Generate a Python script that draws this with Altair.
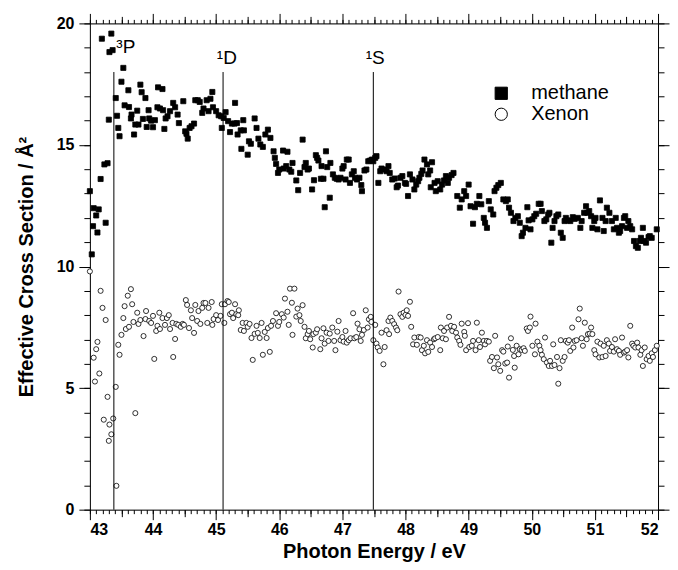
import altair as alt
import pandas as pd

methane_x = [43.0, 43.03, 43.05, 43.06, 43.1, 43.12, 43.14, 43.17, 43.19, 43.23, 43.25, 43.28, 43.3, 43.31, 43.34, 43.36,
             43.41, 43.43, 43.45, 43.47, 43.5, 43.53, 43.55, 43.61, 43.62, 43.65, 43.66, 43.7, 43.72, 43.75, 43.77, 43.8,
             43.82, 43.84, 43.88, 43.9, 43.93, 43.94, 43.97, 44.0, 44.03, 44.07, 44.08, 44.11, 44.15, 44.16, 44.18, 44.2,
             44.23, 44.27, 44.32, 44.35, 44.39, 44.41, 44.48, 44.51, 44.53, 44.55, 44.58, 44.61, 44.65, 44.67, 44.71, 44.74,
             44.78, 44.8, 44.85, 44.88, 44.91, 44.94, 44.95, 45.0, 45.04, 45.08, 45.09, 45.12, 45.15, 45.19, 45.22, 45.25,
             45.29, 45.3, 45.33, 45.34, 45.39, 45.4, 45.43, 45.44, 45.5, 45.52, 45.55, 45.61, 45.64, 45.67, 45.7, 45.74,
             45.78, 45.82, 45.86, 45.91,
             45.93, 45.95, 45.98, 46.0, 46.06, 46.07, 46.11, 46.13, 46.16, 46.19, 46.21, 46.27, 46.3, 46.33, 46.37, 46.4,
             46.42, 46.45, 46.47, 46.52, 46.55, 46.58, 46.6, 46.62, 46.66, 46.67, 46.7, 46.72, 46.74, 46.76, 46.8, 46.81,
             46.85, 46.88, 46.91, 46.94, 46.97, 47.0, 47.02, 47.05, 47.07, 47.1, 47.12, 47.15, 47.18, 47.2, 47.23, 47.27,
             47.3, 47.31, 47.35, 47.38, 47.41, 47.44, 47.47, 47.49, 47.52, 47.54, 47.57, 47.6, 47.62, 47.66, 47.7, 47.73,
             47.75, 47.79, 47.83, 47.86, 47.88, 47.92, 47.95, 47.99, 48.01, 48.04, 48.07, 48.11, 48.14, 48.17, 48.2, 48.22,
             48.25, 48.27, 48.3, 48.34, 48.36, 48.39, 48.4, 48.42, 48.46, 48.48, 48.51, 48.55, 48.58, 48.61, 48.64, 48.67,
             48.69, 48.73, 48.76,
             48.82, 48.86, 48.89, 48.93, 48.96, 49.0, 49.03, 49.07, 49.1, 49.13, 49.17, 49.2, 49.24, 49.26, 49.29, 49.32,
             49.35, 49.39, 49.41, 49.44, 49.47, 49.51, 49.55, 49.59, 49.62, 49.64, 49.67, 49.71, 49.74, 49.78, 49.81, 49.84,
             49.86, 49.9, 49.93, 49.95, 49.98, 50.01, 50.04, 50.07, 50.11, 50.14, 50.16, 50.2, 50.23, 50.26, 50.28, 50.31,
             50.33, 50.36, 50.39, 50.42, 50.46, 50.49, 50.52, 50.54, 50.57, 50.61, 50.65, 50.68, 50.73, 50.77, 50.79, 50.83,
             50.86, 50.88, 50.91, 50.94, 50.96, 50.99, 51.01, 51.04, 51.08, 51.12, 51.14, 51.17, 51.19, 51.23, 51.27, 51.3,
             51.33, 51.35, 51.38, 51.4, 51.43, 51.46, 51.48, 51.51, 51.53, 51.56, 51.59, 51.62, 51.65, 51.68, 51.71, 51.73,
             51.76, 51.78, 51.81, 51.85, 51.87, 51.9, 51.98]
methane_y = [13.1, 10.5, 11.66, 12.4, 12.1, 11.4, 12.35, 13.6, 19.37, 14.2, 11.8, 14.25, 16.04, 18.82, 19.58, 18.9,
             16.93, 16.2, 15.7, 15.36, 17.6, 18.17, 16.63, 17.25, 16.56, 16.09, 16.25, 15.43, 15.84, 16.41, 15.84, 17.48,
             17.17, 16.07, 16.93, 15.74, 16.43, 16.09, 16.0, 15.73, 16.02, 16.55, 17.37, 16.5, 17.3, 16.43, 15.66, 16.09,
             16.18, 16.39, 16.73, 16.55, 16.25, 15.9, 16.8, 15.56, 15.46, 15.26, 15.7, 15.77, 15.88, 16.84, 16.84, 16.77,
             16.32, 16.5, 16.84, 16.39, 16.9, 17.18, 16.55, 16.39, 16.22, 16.18, 15.7, 16.11, 16.35, 15.98, 15.53, 15.88,
             15.88, 16.73, 15.9, 15.43, 15.6, 14.84, 16.02, 15.6, 14.6, 15.15, 15.05, 16.09, 15.7, 15.26, 15.02, 14.92,
             15.43, 15.63, 15.29, 14.74,
             14.47, 14.22, 13.85, 13.99, 14.77, 14.03, 14.13, 14.72, 13.99, 13.9, 14.26, 13.54, 13.14, 13.85, 15.22, 14.09,
             14.26, 13.99, 14.03, 13.17, 13.55, 14.58, 14.47, 14.36, 13.61, 14.13, 13.61, 12.44, 14.74, 14.09, 12.83, 14.26,
             13.79, 13.65, 13.61, 13.58, 13.65, 14.03, 14.13, 13.58, 14.4, 14.4, 13.44, 13.79, 13.92, 13.65, 13.58, 13.65,
             13.35, 13.1, 13.95, 13.99, 14.33, 14.36, 14.4, 14.33, 14.47, 14.54, 13.44, 13.92, 14.03, 13.99, 13.92, 14.13,
             13.85, 13.58, 13.62, 13.26, 13.33, 13.65, 13.72, 13.44, 13.4, 12.9, 13.79, 13.58, 13.17, 13.37, 13.51, 13.65,
             13.81, 13.95, 14.4, 14.2, 13.79, 13.95, 13.26, 14.29, 13.44, 13.1, 13.51, 13.17, 13.37, 13.54, 13.72, 13.44,
             13.65, 13.76, 13.85,
             12.9, 12.42, 12.76, 13.1, 12.9, 13.37, 12.48, 11.76, 12.44, 12.58, 12.9, 12.56, 12.0, 11.8, 11.59, 12.69,
             12.35, 12.14, 13.1, 13.24, 13.35, 13.44, 12.76, 12.69, 12.76, 12.42, 12.21, 11.87, 12.0, 12.07, 11.8, 11.25,
             11.39, 11.59, 12.44, 11.9, 11.53, 11.94, 12.07, 12.17, 12.58, 12.58, 12.28, 11.87, 11.94, 12.14, 12.21, 10.98,
             11.59, 11.87, 12.07, 12.14, 11.39, 11.18, 11.87, 12.0, 11.9, 11.87, 12.03, 11.96, 12.0, 11.59, 11.87, 12.21,
             12.48, 12.21, 12.28, 12.07, 11.59, 11.87, 12.0, 11.53, 12.72, 12.0, 11.46, 11.87, 12.42, 12.21, 11.87, 11.53,
             12.0, 11.59, 11.39, 11.46, 11.66, 12.0, 12.07, 11.59, 11.87, 11.66, 11.53, 11.05, 10.84, 10.77, 11.05, 11.18,
             11.59, 11.05, 10.98, 11.21, 11.25, 11.18, 11.53]

xenon_x = [43.0, 43.06, 43.08, 43.1, 43.12, 43.15, 43.17, 43.2, 43.22, 43.25, 43.28, 43.3, 43.31, 43.34, 43.37, 43.41,
           43.42, 43.45, 43.47, 43.5, 43.53, 43.55, 43.57, 43.6, 43.62, 43.65, 43.67, 43.69, 43.72, 43.75, 43.77, 43.8,
           43.85, 43.88, 43.89, 43.94, 43.97, 44.0, 44.02, 44.05, 44.07, 44.1, 44.11, 44.15, 44.19, 44.22, 44.25, 44.27,
           44.31, 44.32, 44.35, 44.37, 44.4, 44.44, 44.47, 44.49, 44.52, 44.54, 44.57, 44.6, 44.62, 44.65, 44.67, 44.7,
           44.72, 44.75, 44.78, 44.8, 44.83, 44.86, 44.88, 44.93, 44.94, 44.96, 45.0, 45.03, 45.07, 45.09, 45.13, 45.14,
           45.18, 45.2, 45.22, 45.25, 45.27, 45.3, 45.32, 45.35, 45.36, 45.39, 45.42, 45.44, 45.48, 45.5, 45.53, 45.56,
           45.58, 45.61, 45.64, 45.66, 45.69, 45.72, 45.74, 45.77, 45.8, 45.82, 45.85, 45.87, 45.9,
           45.95, 45.98, 46.0, 46.04, 46.07, 46.09, 46.13, 46.15, 46.17, 46.2, 46.21, 46.24, 46.27, 46.29, 46.32, 46.34,
           46.37, 46.4, 46.42, 46.45, 46.47, 46.49, 46.53, 46.54, 46.58, 46.6, 46.65, 46.67, 46.7, 46.72, 46.75, 46.78,
           46.8, 46.84, 46.87, 46.89, 46.92, 46.94, 46.97, 47.0, 47.02, 47.05, 47.07, 47.1, 47.13, 47.17, 47.19, 47.22,
           47.24, 47.27, 47.29, 47.31, 47.34, 47.37, 47.4, 47.42, 47.45, 47.46, 47.49, 47.52, 47.54, 47.56, 47.59, 47.62,
           47.65, 47.67, 47.7, 47.73, 47.74, 47.76, 47.79, 47.82, 47.85, 47.87, 47.89, 47.92, 47.95, 47.97, 48.0, 48.02,
           48.04, 48.07, 48.09, 48.12, 48.14, 48.18, 48.21, 48.24, 48.26, 48.29, 48.31, 48.34, 48.36, 48.39, 48.42, 48.45,
           48.47, 48.51, 48.55, 48.56, 48.59, 48.61, 48.64, 48.66, 48.69, 48.72, 48.74,
           48.77, 48.8, 48.82, 48.85, 48.87, 48.89, 48.93, 48.94, 48.96, 48.99, 49.01, 49.05, 49.07, 49.11, 49.13, 49.16,
           49.18, 49.21, 49.24, 49.26, 49.29, 49.32, 49.34, 49.37, 49.4, 49.42, 49.45, 49.47, 49.5, 49.53, 49.55, 49.58,
           49.61, 49.62, 49.64, 49.67, 49.7, 49.72, 49.73, 49.76, 49.79, 49.81, 49.84, 49.87, 49.89, 49.92, 49.94, 49.97,
           49.98, 50.01, 50.05, 50.06, 50.09, 50.12, 50.14, 50.16, 50.19, 50.21, 50.24, 50.27, 50.29, 50.32, 50.34, 50.36,
           50.4, 50.42, 50.44, 50.46, 50.49, 50.52, 50.54, 50.57, 50.59, 50.61, 50.64, 50.66, 50.68, 50.71, 50.74, 50.76,
           50.79, 50.81, 50.84, 50.87, 50.89, 50.92, 50.94, 50.96, 50.99, 51.01, 51.04, 51.07, 51.09, 51.12, 51.14, 51.17,
           51.19, 51.22, 51.24, 51.27, 51.3, 51.32, 51.35, 51.38, 51.4, 51.43, 51.46, 51.48, 51.51, 51.53, 51.56, 51.59,
           51.61, 51.64, 51.67, 51.69, 51.72, 51.74, 51.76, 51.79, 51.82, 51.85, 51.87, 51.9, 51.92, 51.95, 51.98]
xenon_y = [9.8, 6.25, 5.27, 6.6, 6.9, 5.6, 9.0, 8.3, 3.7, 7.8, 4.64, 2.83, 3.5, 3.1, 3.75, 5.05,
           0.98, 6.78, 6.37, 7.19, 7.88, 8.37, 7.43, 8.8, 7.52, 9.07, 8.45, 7.72, 3.97, 8.1, 7.64, 7.8,
           7.14, 7.84, 8.17, 7.76, 7.68, 7.97, 6.2, 7.35, 7.56, 8.1, 7.43, 7.88, 7.6, 7.88, 8.0, 7.43,
           7.68, 6.28, 7.02, 7.64, 7.6, 7.52, 7.64, 7.6, 8.62, 8.42, 7.47, 8.2, 7.88, 7.27, 8.42, 7.76,
           8.17, 7.64, 8.3, 8.5, 8.5, 7.68, 8.3, 8.54, 7.6, 7.84, 8.0, 7.8, 7.97, 8.45, 7.68, 8.45,
           8.58, 8.54, 8.04, 8.1, 7.88, 8.45, 8.04, 8.0, 8.2, 7.39, 7.68, 7.35, 7.68, 7.52, 7.64, 7.06,
           6.16, 7.23, 7.56, 7.27, 7.06, 7.68, 6.37, 7.31, 7.06, 7.47, 6.49, 7.56, 7.76,
           8.08, 7.56, 7.72, 8.04, 7.9, 8.68, 8.14, 7.6, 9.09, 8.51, 7.19, 9.09, 7.94, 8.27, 8.0, 7.76,
           8.41, 7.52, 7.05, 7.22, 7.35, 7.01, 6.67, 7.22, 7.28, 7.42, 6.6, 7.05, 7.46, 6.83, 7.28, 6.94,
           7.24, 7.49, 6.94, 6.56, 7.32, 7.76, 6.97, 7.1, 6.91, 7.35, 6.87, 6.97, 7.05, 8.08, 7.05, 7.1,
           7.65, 7.42, 6.94, 7.19, 7.39, 8.2, 7.49, 7.83, 7.93, 7.72, 6.97, 7.6, 6.83, 6.67, 6.53, 7.28,
           5.98, 6.69, 7.38, 7.76, 7.22, 7.9, 7.76, 7.63, 7.49, 7.38, 8.97, 8.04, 7.93, 8.1, 8.01, 8.2,
           7.97, 8.55, 7.52, 6.8, 7.08, 6.78, 7.1, 7.08, 6.56, 6.74, 6.43, 6.97, 6.49, 6.87, 6.69, 7.01,
           7.05, 7.1, 6.56, 7.49, 7.05, 7.35, 7.01, 7.49, 7.93, 7.56, 7.35,
           7.52, 7.28, 7.08, 6.94, 6.78, 7.65, 7.31, 7.15, 6.56, 7.67, 6.69, 6.74, 6.94, 6.56, 7.69, 6.97,
           6.69, 7.28, 6.94, 6.8, 6.94, 6.91, 6.12, 6.28, 5.82, 7.15, 6.26, 5.98, 5.71, 6.56, 6.5, 6.01,
           6.05, 6.71, 5.43, 7.05, 6.57, 6.32, 5.84, 6.74, 6.39, 6.6, 6.57, 6.64, 6.53, 7.45, 7.35, 7.49,
           7.94, 6.74, 6.39, 7.65, 6.91, 6.74, 6.56, 6.37, 6.19, 7.08, 6.05, 5.91, 6.12, 5.91, 6.8, 5.95,
           6.28, 5.18, 5.82, 6.97, 6.12, 6.28, 6.94, 6.87, 6.97, 6.53, 7.49, 6.67, 6.94, 6.97, 7.83, 8.27,
           7.05, 6.74, 7.69, 7.01, 7.22, 7.24, 7.49, 7.22, 6.56, 6.39, 6.91, 6.26, 6.83, 6.28, 6.74, 6.32,
           6.97, 6.83, 6.53, 6.69, 6.5, 7.01, 6.6, 6.53, 6.37, 7.08, 6.46, 6.5, 6.56, 6.26, 7.56, 6.83,
           6.74, 6.67, 6.87, 6.67, 6.37, 6.56, 5.91, 6.67, 6.19, 6.32, 6.12, 6.43, 6.28, 6.56, 6.74]

series_names = ["methane", "Xenon"]
line_x = [43.38, 45.11, 47.49]
line_top = [18.0, 18.0, 18.0]
label_text = ["\u00b3P", "\u00b9D", "\u00b9S"]
label_x = [43.57, 45.17, 47.52]
label_y = [18.8, 18.35, 18.35]

FONT = "Liberation Sans"

df = pd.DataFrame({
    "energy": methane_x + xenon_x,
    "xs": methane_y + xenon_y,
    "series": [series_names[0]] * len(methane_x) + [series_names[1]] * len(xenon_x),
})
lines_df = pd.DataFrame({"x": line_x, "y0": [0.0] * len(line_x), "y1": line_top})
labels_df = pd.DataFrame({"x": label_x, "y": label_y, "t": label_text})

xscale = alt.Scale(domain=[43, 52], nice=False, zero=False)
yscale = alt.Scale(domain=[0, 20], nice=False, zero=False)

x_int = list(range(43, 53))
x_half = [43.5 + i for i in range(9)]
x_tenth = [round(43 + 0.1 * i, 1) for i in range(91)]
y_major = [0, 5, 10, 15, 20]
y_minor = list(range(21))


def plain_axis(orient, values, size, domain=False):
    return alt.Axis(orient=orient, values=values, tickSize=size, tickColor="black", labels=False,
                    title=None, domain=domain, domainColor="black", grid=False)


bottom_axis = alt.Axis(orient="bottom", values=x_int, format="d", tickSize=10, tickColor="black",
                       domainColor="black", grid=False, labelFont=FONT, labelColor="black",
                       labelFontWeight="bold", labelFontSize=16, labelPadding=2,
                       title="Photon Energy / eV", titleFont=FONT, titleFontWeight="bold",
                       titleFontSize=20, titlePadding=4, titleColor="black")
left_axis = alt.Axis(orient="left", values=y_major, format="d", tickSize=11, tickColor="black",
                     domainColor="black", grid=False, labelFont=FONT, labelColor="black",
                     labelFontWeight="bold", labelFontSize=16, labelPadding=5,
                     title="Effective Cross Section / \u00c5\u00b2", titleFont=FONT,
                     titleFontWeight="bold", titleFontSize=20, titlePadding=20, titleColor="black")

legend = alt.Legend(orient="none", legendX=402, legendY=60, title=None, symbolSize=150,
                    symbolStrokeColor="black", symbolStrokeWidth=1, labelFont=FONT, labelFontSize=20,
                    labelColor="black", labelOffset=20, rowPadding=1)

points = alt.Chart(df).mark_point(filled=True, strokeWidth=0.8, size=26, opacity=1).encode(
    x=alt.X("energy:Q", scale=xscale, axis=bottom_axis),
    y=alt.Y("xs:Q", scale=yscale, axis=left_axis),
    shape=alt.Shape("series:N", scale=alt.Scale(domain=series_names, range=["square", "circle"]), legend=legend),
    fill=alt.Fill("series:N", scale=alt.Scale(domain=series_names, range=["black", "white"]), legend=legend),
    stroke=alt.Stroke("series:N", scale=alt.Scale(domain=series_names, range=["black", "black"]), legend=legend),
)

rules = alt.Chart(lines_df).mark_rule(color="black", strokeWidth=1).encode(
    x=alt.X("x:Q", scale=xscale, axis=plain_axis("bottom", x_half, 7)),
    y=alt.Y("y0:Q", scale=yscale, axis=plain_axis("left", y_minor, 6)),
    y2="y1:Q",
)

labels = alt.Chart(labels_df).mark_text(font=FONT, fontSize=19, color="black", align="center",
                                         baseline="alphabetic").encode(
    x=alt.X("x:Q", scale=xscale, axis=plain_axis("bottom", x_tenth, 4)),
    y=alt.Y("y:Q", scale=yscale, axis=plain_axis("right", y_major, 11, domain=True)),
    text="t:N",
)


def dummy(xaxis, yaxis):
    return alt.Chart(lines_df).mark_point(opacity=0).encode(
        x=alt.X("x:Q", scale=xscale, axis=xaxis),
        y=alt.Y("y0:Q", scale=yscale, axis=yaxis),
    )


top1 = dummy(plain_axis("top", x_int, 10, domain=True), plain_axis("right", y_minor, 6))
top2 = dummy(plain_axis("top", x_half, 7), None)
top3 = dummy(plain_axis("top", x_tenth, 4), None)

chart = alt.layer(points, rules, labels, top1, top2, top3).resolve_scale(
    x="independent", y="independent"
).properties(
    width=569, height=487,
    padding={"left": 8, "top": 4, "right": 0, "bottom": 0},
)

chart.save("out.html", embed_options={"renderer": "svg", "actions": False})
